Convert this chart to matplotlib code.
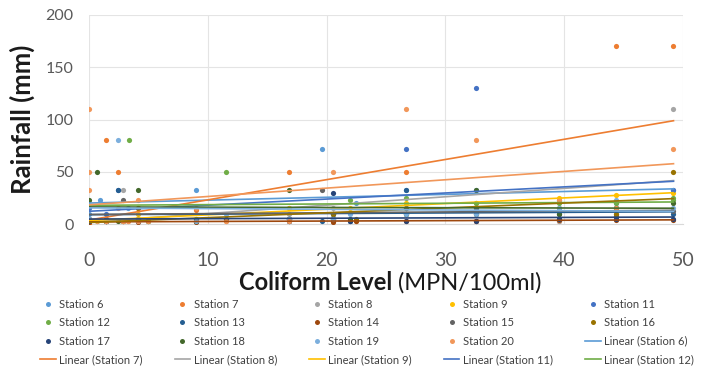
import numpy as np
import matplotlib
matplotlib.use('Agg')
import matplotlib.pyplot as plt
from matplotlib.lines import Line2D

plt.rcParams['font.family'] = ['Lato', 'DejaVu Sans']

# 数据: 每个站点的 (大肠菌群, 降雨量)
st6_x = [0, 0.9, 3.3, 4.1, 9.0, 16.8, 19.6, 22.5, 26.7, 32.6, 39.6, 44.4, 49.2]
st6_y = [10, 23, 15, 5, 33, 15, 72, 20, 33, 33, 23, 20, 33]
st7_x = [0, 1.4, 2.4, 3.3, 4.1, 5.0, 9.0, 11.5, 16.8, 20.5, 22.5, 26.7, 32.6, 39.6, 44.4, 49.2]
st7_y = [0, 80, 50, 3, 15, 3, 13, 3, 50, 3, 3, 50, 3, 3, 170, 170]
st8_x = [0, 1.4, 2.9, 4.1, 9.0, 16.8, 20.5, 26.7, 32.6, 39.6, 44.4, 49.2]
st8_y = [5, 3, 33, 5, 3, 10, 15, 10, 15, 3, 10, 110]
st9_x = [0, 1.4, 2.9, 4.1, 9.0, 16.8, 20.5, 22.0, 26.7, 32.6, 39.6, 44.4, 49.2]
st9_y = [3, 5, 3, 10, 5, 15, 10, 15, 20, 20, 25, 28, 30]
st11_x = [0, 1.4, 2.4, 4.1, 9.0, 11.5, 16.8, 20.5, 22.0, 26.7, 32.6, 39.6, 44.4, 49.2]
st11_y = [15, 10, 33, 5, 3, 5, 5, 10, 3, 72, 130, 5, 5, 33]
st12_x = [0, 0.7, 1.4, 3.4, 5.0, 9.0, 11.5, 16.8, 20.5, 22.0, 26.7, 26.7, 32.6, 39.6, 44.4, 44.4, 49.2, 49.2]
st12_y = [3, 3, 3, 80, 3, 5, 50, 5, 10, 23, 15, 25, 20, 20, 15, 20, 23, 25]
st13_x = [0, 1.4, 2.4, 4.1, 9.0, 16.8, 19.6, 20.5, 22.0, 26.7, 32.6, 39.6, 44.4, 49.2]
st13_y = [5, 3, 33, 3, 3, 5, 3, 10, 3, 33, 10, 5, 15, 10]
st14_x = [0, 1.4, 4.1, 9.0, 16.8, 20.5, 22.5, 26.7, 32.6, 39.6, 44.4, 49.2]
st14_y = [2, 3, 2, 2, 3, 2, 3, 3, 3, 4, 4, 4]
st15_x = [0, 1.4, 2.9, 4.1, 9.0, 16.8, 19.6, 20.5, 26.7, 32.6, 39.6, 44.4, 49.2]
st15_y = [3, 5, 23, 5, 3, 3, 33, 5, 15, 15, 10, 8, 12]
st16_x = [0, 1.4, 2.9, 4.1, 9.0, 16.8, 20.5, 22.5, 26.7, 32.6, 39.6, 44.4, 49.2]
st16_y = [5, 3, 3, 15, 3, 5, 10, 5, 10, 10, 15, 10, 50]
st17_x = [0, 1.4, 2.9, 4.1, 9.0, 16.8, 20.5, 22.0, 26.7, 32.6, 39.6, 44.4, 49.2]
st17_y = [3, 3, 3, 3, 3, 3, 30, 3, 3, 3, 5, 5, 5]
st18_x = [0, 0.7, 1.4, 2.4, 4.1, 5.0, 9.0, 11.5, 16.8, 20.5, 22.0, 26.7, 32.6, 39.6, 44.4, 49.2]
st18_y = [23, 50, 3, 3, 33, 3, 3, 5, 33, 5, 5, 10, 33, 10, 15, 20]
st19_x = [0, 1.4, 2.4, 4.1, 9.0, 11.5, 16.8, 20.5, 22.0, 26.7, 32.6, 39.6, 44.4, 49.2]
st19_y = [5, 3, 80, 3, 3, 10, 5, 5, 10, 10, 10, 15, 23, 15]
st20_x = [0, 0, 0, 0.7, 1.4, 1.4, 2.4, 2.9, 2.9, 3.3, 4.1, 4.1, 5.0, 9.0, 11.5, 16.8, 20.5, 26.7,
          32.6, 39.6, 44.4, 49.2]
st20_y = [110, 50, 33, 3, 3, 3, 15, 3, 3, 3, 23, 3, 3, 15, 3, 3, 50, 110, 80, 23, 15, 72]

station_names = ['Station 6', 'Station 7', 'Station 8', 'Station 9', 'Station 11', 'Station 12',
                 'Station 13', 'Station 14', 'Station 15', 'Station 16', 'Station 17', 'Station 18',
                 'Station 19', 'Station 20']
# Excel 默认配色
colors = ['#5B9BD5', '#ED7D31', '#A5A5A5', '#FFC000', '#4472C4', '#70AD47',
          '#255E91', '#9E480E', '#636363', '#997300', '#264478', '#43682B',
          '#7CAFDD', '#F1975A']
# 图例里只出现的趋势线
legend_trends = ['Station 6', 'Station 7', 'Station 8', 'Station 9', 'Station 11', 'Station 12']

series = [(st6_x, st6_y), (st7_x, st7_y), (st8_x, st8_y), (st9_x, st9_y), (st11_x, st11_y),
          (st12_x, st12_y), (st13_x, st13_y), (st14_x, st14_y), (st15_x, st15_y),
          (st16_x, st16_y), (st17_x, st17_y), (st18_x, st18_y), (st19_x, st19_y),
          (st20_x, st20_y)]

W, H = 718, 375
fig = plt.figure(figsize=(W / 100, H / 100), dpi=100)
ax = fig.add_axes([89 / W, 1 - 224 / H, 594 / W, 209 / H])

for (x, y), c in zip(series, colors):
    x = np.asarray(x, dtype=float)
    y = np.asarray(y, dtype=float)
    ax.scatter(x, y, s=14, color=c, zorder=3, linewidths=0)
    k, b = np.polyfit(x, y, 1)
    xx = np.array([x.min(), x.max()])
    ax.plot(xx, k * xx + b, color=c, lw=1.2, zorder=4)

ax.set_xlim(0, 50)
ax.set_ylim(0, 200)
ax.set_xticks(range(0, 51, 10))
ax.set_yticks(range(0, 201, 50))
ax.grid(True, color='#E4E4E4', lw=0.8)
ax.set_axisbelow(True)
for s in ['top', 'left', 'right']:
    ax.spines[s].set_visible(False)
ax.spines['bottom'].set_color('#D9D9D9')
ax.tick_params(axis='both', length=0, colors='#595959')
ax.tick_params(axis='y', labelsize=11.5, pad=11)
ax.tick_params(axis='x', labelsize=14, pad=20)

ax.set_ylabel('Rainfall (mm)', fontsize=18.5, fontweight='bold', color='#1a1a1a', va='center')
ax.yaxis.set_label_coords(-0.113, 0.5)

# x 轴标题: 前半部分加粗
fig.canvas.draw()
r = fig.canvas.get_renderer()
ty = 1 - 283 / H
t1 = fig.text(0, ty, 'Coliform Level', fontsize=17, fontweight='bold', color='#1a1a1a', va='center')
t2 = fig.text(0, ty, ' (MPN/100ml)', fontsize=17, color='#1a1a1a', va='center')
w1 = t1.get_window_extent(r).width
w2 = t2.get_window_extent(r).width
x0 = 390 - (w1 + w2) / 2
t1.set_x(x0 / W)
t2.set_x((x0 + w1) / W)

# 图例: 5 列, 按行排列
items = []
for name, c in zip(station_names, colors):
    items.append((Line2D([], [], ls='none', marker='o', ms=3.6, mew=0, color=c), name))
for name in legend_trends:
    c = colors[station_names.index(name)]
    items.append((Line2D([], [], color=c, lw=1.2), 'Linear (' + name + ')'))
ncol, nrow = 5, 4
ordered = [items[rr * ncol + cc] for cc in range(ncol) for rr in range(nrow)]
fig.legend([h for h, _ in ordered], [l for _, l in ordered], ncol=ncol,
           loc='upper left', bbox_to_anchor=(40 / W, 1 - 299 / H), frameon=False,
           fontsize=8, borderpad=0, borderaxespad=0, handlelength=1.4, handletextpad=0.3,
           labelspacing=0.66, columnspacing=2.9, labelcolor='#404040')

fig.savefig('out.png', dpi=100)
